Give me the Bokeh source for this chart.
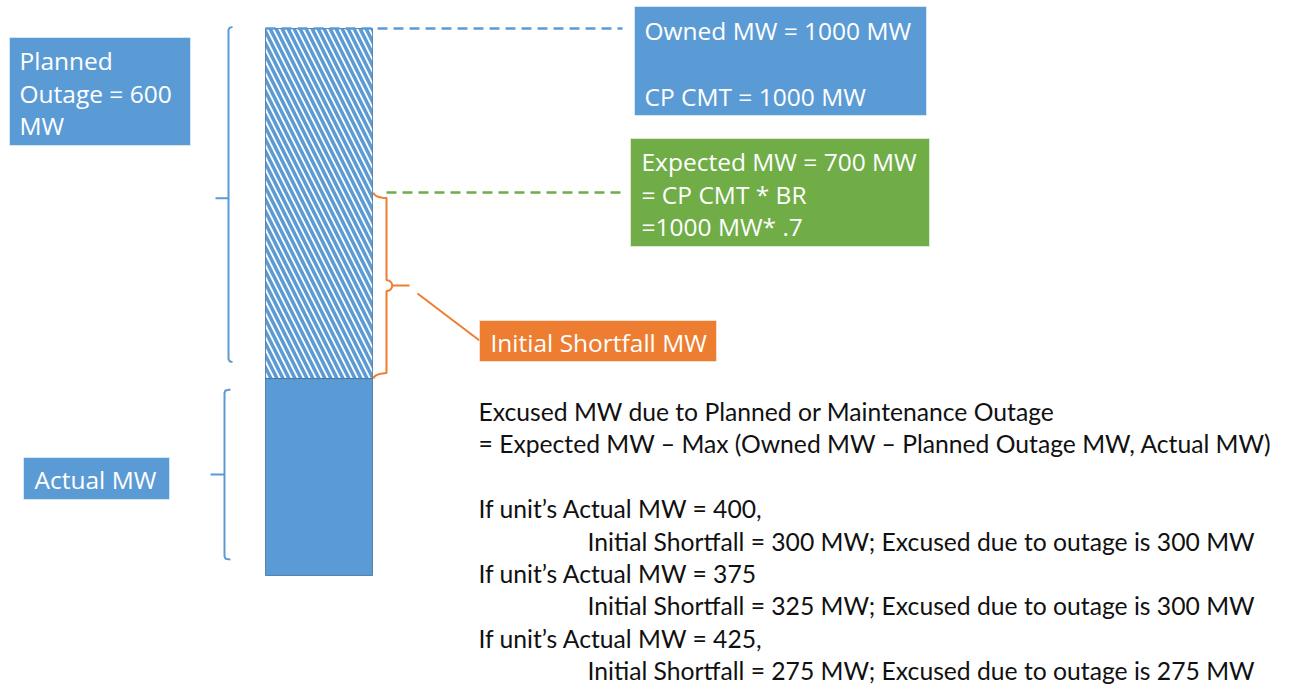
from bokeh.plotting import figure
from bokeh.models import Range1d
from bokeh.embed import file_html
from bokeh.resources import INLINE
from bokeh.core.properties import value
import numpy as np

# ---- data (MW) ----
owned_mw = 1000
cp_cmt_mw = 1000
expected_mw = 700
actual_mw_drawn = 360     # height of the solid part as drawn
planned_outage_label = 600

box_texts = {
    "planned": ["Planned", "Outage = 600", "MW"],
    "owned": ["Owned MW = 1000 MW", "", "CP CMT = 1000 MW"],
    "expected": ["Expected MW = 700 MW", "= CP CMT * BR", "=1000 MW* .7"],
    "shortfall": ["Initial Shortfall MW"],
    "actual": ["Actual MW"],
}
body_lines = [
    "Excused MW due to Planned or Maintenance Outage",
    "= Expected MW \u2013 Max (Owned MW \u2013 Planned Outage MW, Actual MW)",
    "",
    "If unit\u2019s Actual MW = 400,",
    "Initial Shortfall = 300 MW; Excused due to outage is 300 MW",
    "If unit\u2019s Actual MW = 375",
    "Initial Shortfall = 325 MW; Excused due to outage is 300 MW",
    "If unit\u2019s Actual MW = 425,",
    "Initial Shortfall = 275 MW; Excused due to outage is 275 MW",
]
body_indent = [0, 0, 0, 0, 1, 0, 1, 0, 1]

BLUE = "#5B9BD5"
BLUE_D = "#41719C"
GREEN = "#70AD47"
ORANGE = "#ED7D31"

W, H = 1289, 689
PX_PER_MW = 0.547
BASE_Y = 575   # picture row of 0 MW
y_top = BASE_Y / PX_PER_MW
y_bot = (BASE_Y - H) / PX_PER_MW

p = figure(width=W, height=H, output_backend="svg", toolbar_location=None,
           x_range=Range1d(0, W), y_range=Range1d(y_bot, y_top),
           min_border=0, min_border_left=0, min_border_right=0,
           min_border_top=0, min_border_bottom=0)
p.extra_y_ranges = {"px": Range1d(start=H, end=0)}
p.xaxis.visible = False
p.yaxis.visible = False
p.grid.visible = False
p.outline_line_color = None
p.background_fill_color = "white"
p.border_fill_color = "white"

bar_l, bar_r = 265, 372

# hatched part (planned outage region)
p.quad(left=[bar_l], right=[bar_r], bottom=[actual_mw_drawn], top=[owned_mw],
       fill_color="white", line_color=BLUE_D, line_width=1, line_alpha=0.8,
       hatch_pattern="left_diagonal_line", hatch_color=BLUE,
       hatch_scale=12, hatch_weight=3.5)
# solid actual part
p.quad(left=[bar_l], right=[bar_r], bottom=[0], top=[actual_mw_drawn],
       fill_color=BLUE, line_color=BLUE_D, line_width=1, line_alpha=0.8)

# dashed leaders
p.segment(x0=[bar_l], x1=[622], y0=[owned_mw], y1=[owned_mw],
          line_color=BLUE, line_width=2.5, line_dash="10 6")
p.segment(x0=[bar_r + 14], x1=[622], y0=[expected_mw], y1=[expected_mw],
          line_color=GREEN, line_width=2.5, line_dash="10 6")


def bracket(x, top, bot, tip_y, tip_len, hook, r=4):
    """left-pointing bracket: vertical line, straight tick, small hooks"""
    xs = [x + hook, x + 1, x, x, x - tip_len, x, x, x + 1, x + hook]
    ys = [top, top - r * 0.3, top - r, tip_y, tip_y, tip_y, bot + r,
          bot + r * 0.3, bot]
    return xs, ys


def brace(x, top, bot, direction, tip_len, hook, r_mw=9, tip_y=None):
    """curly brace path; direction=+1 tip points right"""
    mid = (top + bot) / 2 if tip_y is None else tip_y
    d = direction
    xs, ys = [], []
    t = np.linspace(0, np.pi / 2, 6)
    for a in t:
        xs.append(x + (-d) * hook * np.cos(a))
        ys.append(top - r_mw * np.sin(a))
    xs.append(x); ys.append(mid + r_mw)
    for a in t:
        xs.append(x + d * tip_len * 0.25 * np.sin(a))
        ys.append(mid + r_mw * np.cos(a))
    xs.append(x + d * tip_len); ys.append(mid)
    xs.append(x + d * tip_len * 0.25); ys.append(mid)
    for a in t:
        xs.append(x + d * tip_len * 0.25 * np.cos(a))
        ys.append(mid - r_mw * np.sin(a))
    xs.append(x); ys.append(bot + r_mw)
    for a in t:
        xs.append(x + (-d) * hook * np.sin(a))
        ys.append(bot + r_mw * np.cos(a))
    return xs, ys


# planned-outage bracket (left)
bx, by = bracket(228, owned_mw + 3, actual_mw_drawn + 30,
                 (owned_mw + actual_mw_drawn + 33) / 2 - 7, 13, 4, r=6)
p.line(bx, by, line_color=BLUE, line_width=2)
# actual bracket (left)
bx, by = bracket(224, actual_mw_drawn - 20, 29,
                 (actual_mw_drawn - 20 + 29) / 2, 14, 6, r=6)
p.line(bx, by, line_color=BLUE, line_width=2)
# shortfall brace (right)
bx, by = brace(386, expected_mw, actual_mw_drawn, 1, 23, 13, r_mw=10)
p.line(bx, by, line_color=ORANGE, line_width=2)
# connector to shortfall box
p.segment(x0=[417], y0=[293], x1=[479], y1=[340], y_range_name="px",
          line_color=ORANGE, line_width=2)

# boxes (picture pixel coords)
boxes = [
    (9, 190, 37, 145, BLUE),
    (634, 926, 6, 115, BLUE),
    (630, 929, 138, 246, GREEN),
    (479, 716, 320, 361, ORANGE),
    (23, 169, 457, 499, BLUE),
]
for l, r, t_, b_, c in boxes:
    p.quad(left=[l], right=[r], top=[t_], bottom=[b_], y_range_name="px",
           fill_color=c, line_color="white", line_width=0.5)

FONT_BOX = value("Open Sans")
FONT_BODY = value("Lato")


def put(lines, x, y0, dy, color, font, size):
    ys = [y0 + i * dy for i in range(len(lines))]
    p.text(x=[x] * len(lines), y=ys, text=lines, y_range_name="px",
           text_color=color, text_font=font, text_font_size=size,
           text_baseline="middle", text_align="left")


BOX_FS = "24.5px"
put(box_texts["planned"], 19, 60, 32.5, "white", FONT_BOX, BOX_FS)
put(box_texts["owned"], 644, 30, 33, "white", FONT_BOX, BOX_FS)
put(box_texts["expected"], 641, 161, 32.5, "white", FONT_BOX, BOX_FS)
put(box_texts["shortfall"], 490, 342, 0, "white", FONT_BOX, BOX_FS)
put(box_texts["actual"], 34, 479, 0, "white", FONT_BOX, BOX_FS)

body_x = [478 + 109 * k for k in body_indent]
ys = [411 + i * 32.4 for i in range(len(body_lines))]
p.text(x=body_x, y=ys, text=body_lines, y_range_name="px",
       text_color="#111111", text_font=FONT_BODY, text_font_size="24.7px",
       text_baseline="middle", text_align="left")

open("out.html", "w").write(file_html(p, INLINE))
